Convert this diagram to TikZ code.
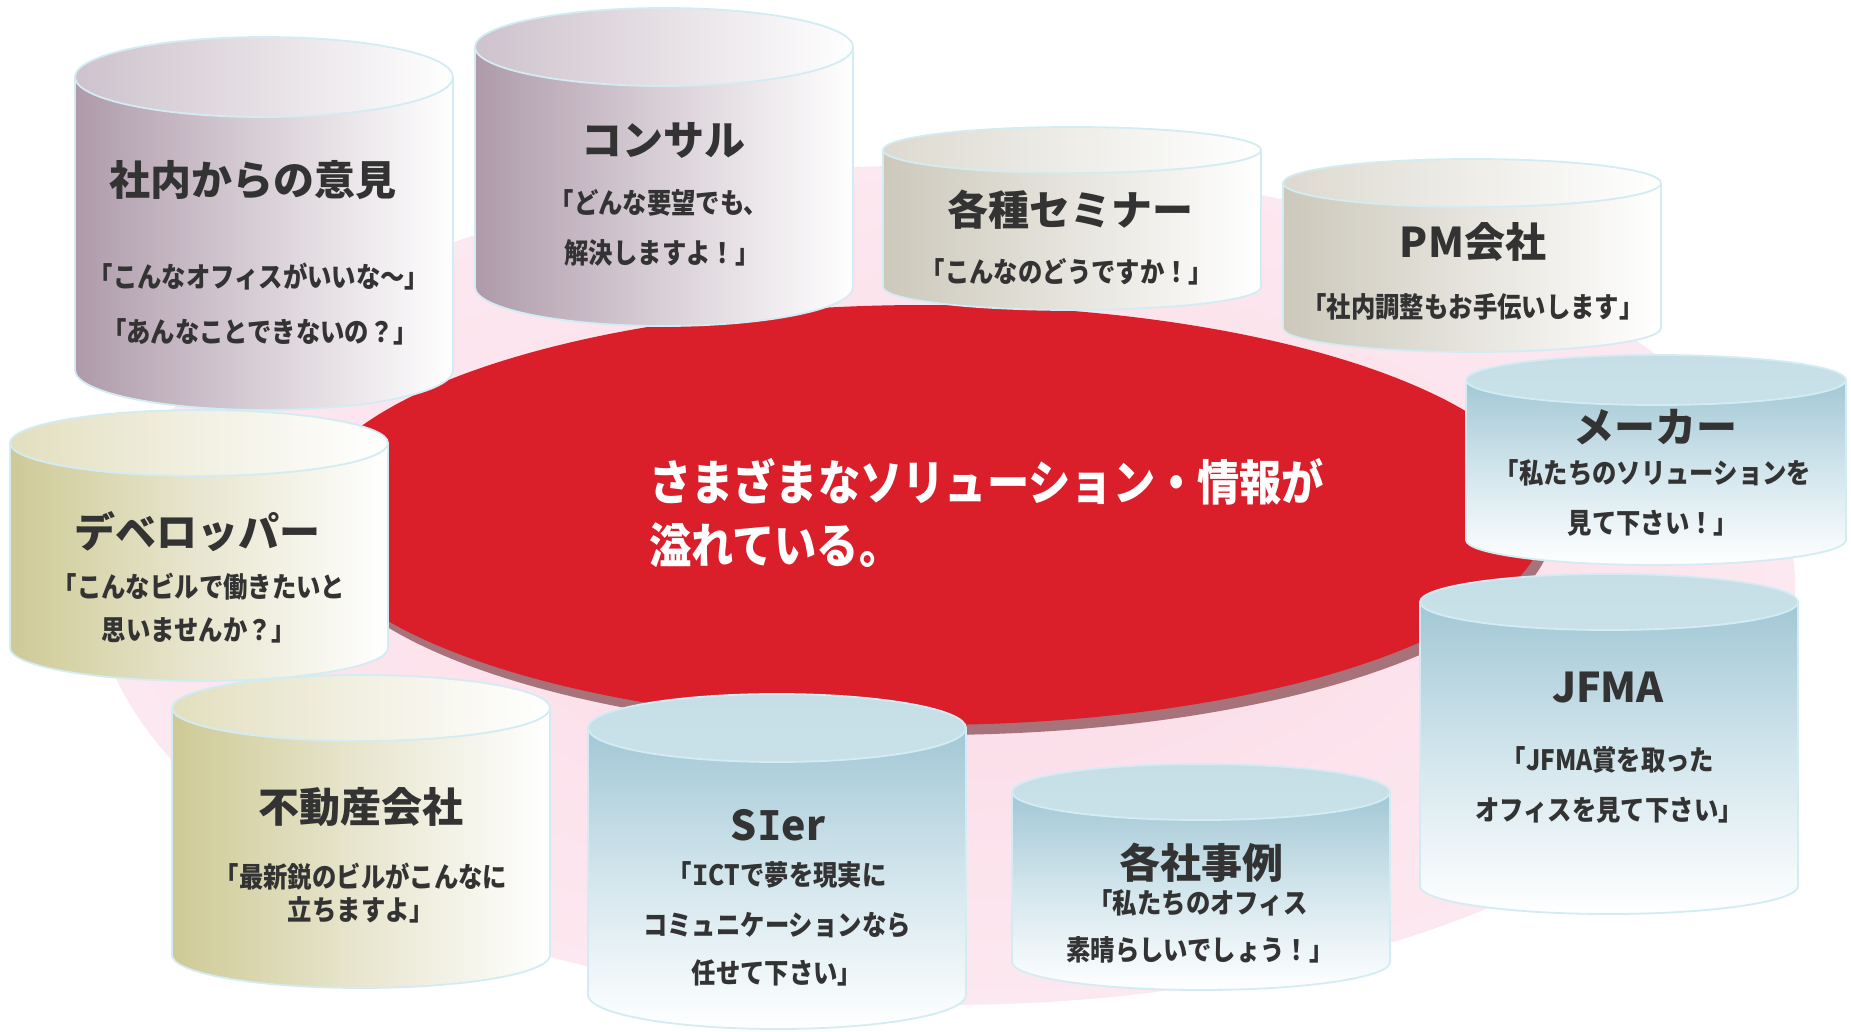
\documentclass[tikz,border=0pt]{standalone}
\usepackage{fontspec}
\newfontfamily\jp{Noto Sans CJK JP}
\newfontfamily\jpn{Noto Sans CJK JP}[FakeStretch=0.87]
\newfontfamily\jpm{Noto Sans CJK JP}[FakeStretch=0.88]
\newfontfamily\serifI{DejaVu Sans Mono}
\newcommand\sI{{\serifI\bfseries I}}
\definecolor{txt}{HTML}{333333}
\definecolor{cylline}{HTML}{D3ECF3}
\definecolor{redmain}{HTML}{DA1F2A}
\definecolor{redshadow}{HTML}{A8727A}
\definecolor{pinkin}{HTML}{FBDAE6}
\definecolor{pinkout}{HTML}{FCE8F0}
\definecolor{purA}{HTML}{AE9AAA}
\definecolor{purB}{HTML}{D9D0D7}
\definecolor{purT}{HTML}{CEC2CC}
\definecolor{purTm}{HTML}{E6E0E5}
\definecolor{begA}{HTML}{CCC8BB}
\definecolor{begB}{HTML}{E6E4DD}
\definecolor{begT}{HTML}{DDD9D0}
\definecolor{begTm}{HTML}{EEEDE8}
\definecolor{oliA}{HTML}{CECA96}
\definecolor{oliB}{HTML}{E8E6CF}
\definecolor{oliT}{HTML}{E2DFBF}
\definecolor{oliTm}{HTML}{F2F0E2}
\definecolor{bluA}{HTML}{A2C7D5}
\definecolor{bluB}{HTML}{D3E6ED}
\definecolor{bluT}{HTML}{C6DFE7}
\definecolor{bluTb}{HTML}{C9E0E8}
\tikzset{
  cyledge/.style={draw=cylline, line width=1.8pt},
  purbody/.style={left color=purA, right color=white, middle color=purB},
  purtop/.style={left color=purT, right color=white, middle color=purTm},
  begbody/.style={left color=begA, right color=white, middle color=begB},
  begtop/.style={left color=begT, right color=white, middle color=begTm},
  olibody/.style={left color=oliA, right color=white, middle color=oliB},
  olitop/.style={left color=oliT, right color=white, middle color=oliTm},
  blubody/.style={top color=bluA, bottom color=white, middle color=bluB},
  blutop/.style={top color=bluT, bottom color=bluTb},
  ttl/.style={font=\jp\bfseries\fontsize{41}{48}\selectfont, text=txt, inner sep=0pt},
  subtxt/.style={font=\jpn\bfseries\fontsize{28}{32}\selectfont, text=txt, inner sep=0pt},
  maintxt/.style={font=\jpm\bfseries\fontsize{48}{54}\selectfont, text=white, inner sep=0pt, anchor=west},
}
% #1 cx, #2 top y, #3 bottom y, #4 rx, #5 ry, #6 body style, #7 top style
\newcommand\drawcyl[7]{%
  \path[#6, cyledge] (#1-#4,#2) -- (#1-#4,#3)
     arc[start angle=180, end angle=360, x radius=#4pt, y radius=#5pt]
     -- (#1+#4,#2) -- cycle;
  \path[#7, cyledge] (#1,#2) ellipse [x radius=#4pt, y radius=#5pt];
}
\begin{document}
\begin{tikzpicture}[x=1pt,y=-1pt]
\useasboundingbox (0,0) rectangle (1851,1032);
\fill[white] (0,0) rectangle (1851,1032);
% pink background disc
\path[inner color=pinkin, outer color=pinkout] (945,585) ellipse [x radius=850pt, y radius=420pt];
% red disc with its edge
\fill[redshadow] (931,525) ellipse [x radius=622pt, y radius=210pt];
\fill[redmain] (925,515) ellipse [x radius=622pt, y radius=210pt];
\node[maintxt] (m1) at (649,482) {さまざまなソリューション・情報が};
\node[maintxt] (m2) at (649,545) {溢れている。};

% back row
\drawcyl{1072}{150}{287}{189}{23}{begbody}{begtop}
\node[ttl] (t3) at (1070,210) {各種セミナー};
\node[subtxt] (s3a) at (1067,272) {「こんなのどうですか！」};

\drawcyl{1472}{183}{328}{189}{24}{begbody}{begtop}
\node[ttl] (t4) at (1473,242) {PM会社};
\node[subtxt] (s4a) at (1473,307) {「社内調整もお手伝いします」};

\drawcyl{664}{47}{287}{189}{39}{purbody}{purtop}
\node[ttl] (t2) at (663,140) {コンサル};
\node[subtxt] (s2a) at (659,203) {「どんな要望でも、};
\node[subtxt] (s2b) at (662,253) {解決しますよ！」};

\drawcyl{264}{77}{370}{189}{40}{purbody}{purtop}
\node[ttl] (t1) at (253,180) {社内からの意見};
\node[subtxt] (s1a) at (259,277) {「こんなオフィスがいいな～」};
\node[subtxt] (s1b) at (260,332) {「あんなことできないの？」};

\drawcyl{1656}{380}{540}{190}{25}{blubody}{blutop}
\node[ttl] (t5) at (1655,427) {メーカー};
\node[subtxt] (s5a) at (1653,473) {「私たちのソリューションを};
\node[subtxt] (s5b) at (1653,523) {見て下さい！」};

\drawcyl{199}{443}{648}{189}{33}{olibody}{olitop}
\node[ttl] (t6) at (197,532) {デベロッパー};
\node[subtxt] (s6a) at (199,587) {「こんなビルで働きたいと};
\node[subtxt] (s6b) at (199,630) {思いませんか？」};

\drawcyl{1609}{602}{886}{189}{28}{blubody}{blutop}
\node[ttl] (t10) at (1608,688) {JFMA};
\node[subtxt] (s10a) at (1608,760) {「JFMA賞を取った};
\node[subtxt] (s10b) at (1609,810) {オフィスを見て下さい」};

\drawcyl{361}{708}{955}{189}{33}{olibody}{olitop}
\node[ttl] (t7) at (361,807) {不動産会社};
\node[subtxt] (s7a) at (361,877) {「最新鋭のビルがこんなに};
\node[subtxt] (s7b) at (361,910) {立ちますよ」};

\drawcyl{1201}{792}{962}{189}{28}{blubody}{blutop}
\node[ttl] (t9) at (1201,863) {各社事例};
\node[subtxt] (s9a) at (1198,903) {「私たちのオフィス};
\node[subtxt] (s9b) at (1200,950) {素晴らしいでしょう！」};

\drawcyl{777}{728}{995}{189}{34}{blubody}{blutop}
\node[ttl] (t8) at (778,825) {S\sI er};
\node[subtxt] (s8a) at (777,875) {「\sI CTで夢を現実に};
\node[subtxt] (s8b) at (777,925) {コミュニケーションなら};
\node[subtxt] (s8c) at (777,973) {任せて下さい」};
\end{tikzpicture}
\end{document}
